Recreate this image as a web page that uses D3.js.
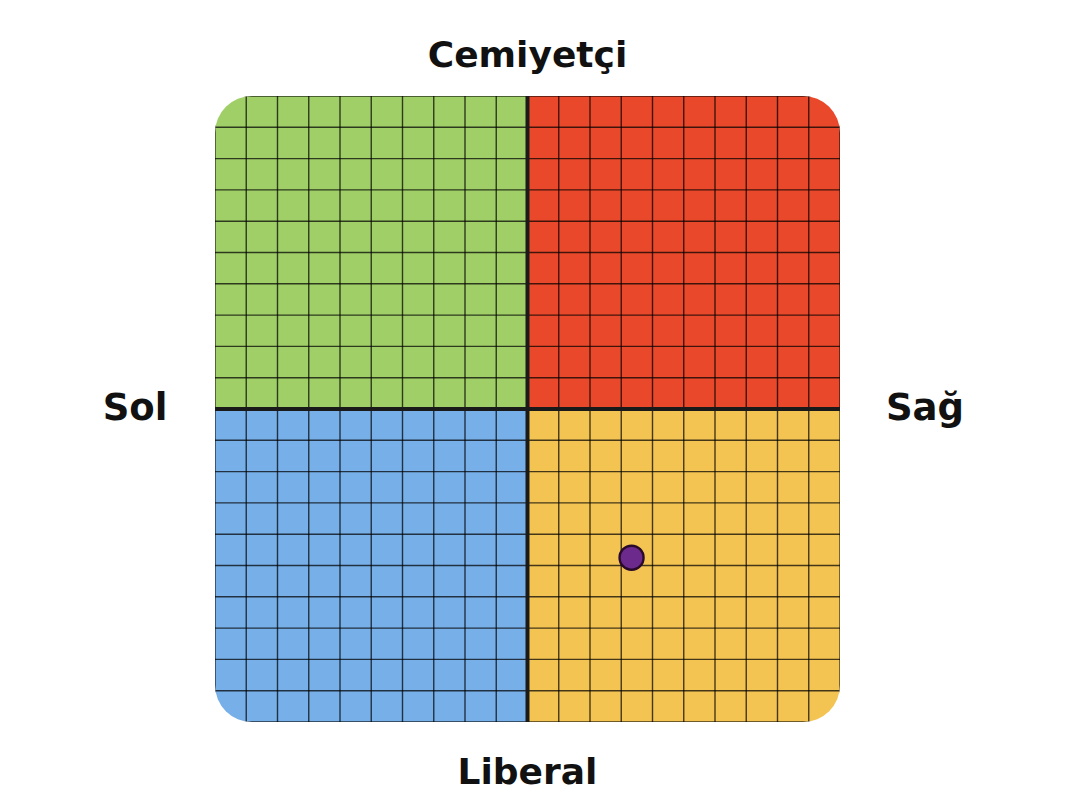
<!DOCTYPE html>
<html>
<head>
<meta charset="utf-8">
<script src="https://cdn.jsdelivr.net/npm/d3@7"></script>
<style>
  html, body { margin: 0; padding: 0; background: #fff; }
  svg text { font-family: "DejaVu Sans", Verdana, sans-serif; font-weight: bold; fill: #111; }
</style>
</head>
<body>
<svg id="svg1" width="1080" height="810"></svg>
<script>
// eksen etiketleri
var axisLabels = { top: "Cemiyetçi", bottom: "Liberal", left: "Sol", right: "Sağ" };

// çeyrekler: x ve y aralıkları
var quadrants = [
    { name: "sol-cemiyetçi", x: [-10, 0], y: [0, 10], color: "#a0cf68" },
    { name: "sağ-cemiyetçi", x: [0, 10], y: [0, 10], color: "#e9482a" },
    { name: "sol-liberal", x: [-10, 0], y: [-10, 0], color: "#77afe8" },
    { name: "sağ-liberal", x: [0, 10], y: [-10, 0], color: "#f4c453" }
];

// kişinin konumu
var economic = [3.33];
var social = [-4.75];

var gridTicks = d3.range(-10, 11, 1);

var svg = d3.select("#svg1");

var xScale = d3.scaleLinear().domain([-10, 10]).range([215, 840]);
var yScale = d3.scaleLinear().domain([-10, 10]).range([722, 96]);

// köşeleri yuvarlatılmış kırpma alanı
svg.append("defs").append("clipPath")
    .attr("id", "box")
    .append("rect")
    .attr("x", xScale(-10))
    .attr("y", yScale(10))
    .attr("width", xScale(10) - xScale(-10))
    .attr("height", yScale(-10) - yScale(10))
    .attr("rx", 37)
    .attr("ry", 37);

var g = svg.append("g").attr("clip-path", "url(#box)");

g.selectAll("rect.quad")
    .data(quadrants)
    .enter()
    .append("rect")
    .attr("class", "quad")
    .attr("x", d => xScale(d.x[0]))
    .attr("y", d => yScale(d.y[1]))
    .attr("width", d => xScale(d.x[1]) - xScale(d.x[0]))
    .attr("height", d => yScale(d.y[0]) - yScale(d.y[1]))
    .style("fill", d => d.color);

// ızgara çizgileri
g.selectAll("line.vgrid")
    .data(gridTicks)
    .enter()
    .append("line")
    .attr("x1", d => xScale(d)).attr("x2", d => xScale(d))
    .attr("y1", yScale(10)).attr("y2", yScale(-10))
    .style("stroke", "#000")
    .style("stroke-opacity", 0.72)
    .style("stroke-width", 1.4);

g.selectAll("line.hgrid")
    .data(gridTicks)
    .enter()
    .append("line")
    .attr("y1", d => yScale(d)).attr("y2", d => yScale(d))
    .attr("x1", xScale(-10)).attr("x2", xScale(10))
    .style("stroke", "#000")
    .style("stroke-opacity", 0.72)
    .style("stroke-width", 1.4);

// ana eksenler
g.append("line")
    .attr("x1", xScale(0)).attr("x2", xScale(0))
    .attr("y1", yScale(10)).attr("y2", yScale(-10))
    .style("stroke", "#1a1a1a").style("stroke-width", 4);
g.append("line")
    .attr("y1", yScale(0)).attr("y2", yScale(0))
    .attr("x1", xScale(-10)).attr("x2", xScale(10))
    .style("stroke", "#1a1a1a").style("stroke-width", 4);

// nokta
svg.selectAll("circle.point")
    .data(economic.map((e, i) => ({ x: e, y: social[i] })))
    .enter()
    .append("circle")
    .attr("class", "point")
    .attr("cx", d => xScale(d.x))
    .attr("cy", d => yScale(d.y))
    .attr("r", 12)
    .style("fill", "#6b2a8c")
    .style("stroke", "#2a0a2a")
    .style("stroke-width", 2.4);

// etiketler
svg.append("text")
    .attr("x", xScale(0)).attr("y", 67)
    .attr("text-anchor", "middle")
    .style("font-size", "36px")
    .text(axisLabels.top);

svg.append("text")
    .attr("x", xScale(0)).attr("y", 784)
    .attr("text-anchor", "middle")
    .style("font-size", "36px")
    .text(axisLabels.bottom);

svg.append("text")
    .attr("x", 135).attr("y", 420)
    .attr("text-anchor", "middle")
    .style("font-size", "37px")
    .text(axisLabels.left);

svg.append("text")
    .attr("x", 925).attr("y", 420)
    .attr("text-anchor", "middle")
    .style("font-size", "37px")
    .text(axisLabels.right);
</script>
</body>
</html>
